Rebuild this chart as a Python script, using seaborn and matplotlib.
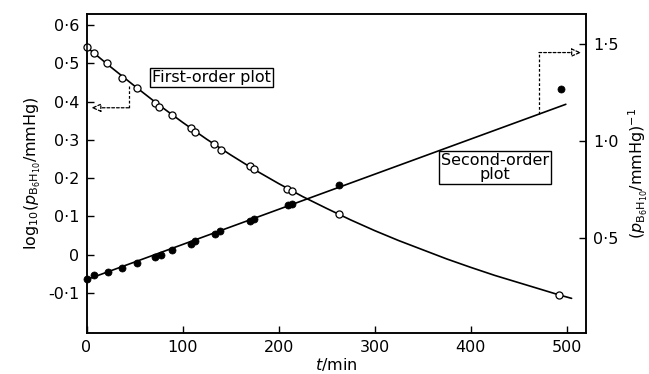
import matplotlib
matplotlib.use("Agg")
import matplotlib.pyplot as plt
import pandas as pd
import seaborn as sns
from matplotlib.ticker import FixedLocator, FuncFormatter

# ---- data ----
t_first = [0, 7.6, 21.6, 36.8, 52.4, 70.8, 75.3, 89.3, 109, 112.8, 132.6, 139.9,
           169.8, 174.3, 209, 214.3, 262.8, 492]
log_p = [0.543, 0.528, 0.500, 0.463, 0.435, 0.397, 0.387, 0.364, 0.332, 0.320,
         0.289, 0.274, 0.233, 0.223, 0.173, 0.167, 0.107, -0.105]

t_second = [0, 8.3, 22.2, 36.8, 52.4, 70.8, 77.1, 89.3, 109, 113.2, 133.3, 138.5,
            169.8, 174.3, 210, 213.9, 262.8, 494]
inv_p = [0.286, 0.307, 0.324, 0.346, 0.372, 0.403, 0.413, 0.438, 0.470, 0.483,
         0.522, 0.536, 0.588, 0.598, 0.669, 0.676, 0.771, 1.267]

# fitted curves as drawn
curve1_t = [0, 25, 50, 75, 100, 125, 150, 175, 200, 225, 250, 275, 300, 325,
            350, 375, 400, 425, 450, 475, 492, 505]
curve1_v = [0.543, 0.491, 0.441, 0.392, 0.346, 0.302, 0.261, 0.222, 0.186,
            0.152, 0.121, 0.091, 0.063, 0.037, 0.013, -0.011, -0.033, -0.054,
            -0.073, -0.092, -0.105, -0.114]
line2_t = [0, 499]
line2_v = [0.285, 1.19]

# annotation pointer paths
arrow1_t = [44, 44, 5]
arrow1_v = [0.441, 0.384, 0.384]
arrow2_t = [471, 471, 515]
arrow2_v = [1.142, 1.457, 1.457]

x_ticks = [0, 100, 200, 300, 400, 500]
left_ticks = [-0.1, 0, 0.1, 0.2, 0.3, 0.4, 0.5, 0.6]
right_ticks = [0.5, 1.0, 1.5]

sns.set_style("ticks")
plt.rcParams["font.family"] = ["DejaVu Sans"]
plt.rcParams["font.size"] = 11.5
plt.rcParams["axes.linewidth"] = 1.1
for k in ("text.color", "axes.labelcolor", "xtick.color", "ytick.color",
          "axes.edgecolor"):
    plt.rcParams[k] = "black"

fig = plt.figure(figsize=(6.49, 3.74), dpi=100)
ax = fig.add_axes([86.5 / 649, 1 - 333 / 374, (586 - 86.5) / 649, (333 - 14) / 374])
ax2 = ax.twinx()

df1 = pd.DataFrame({"t": t_first, "v": log_p})
df2 = pd.DataFrame({"t": t_second, "v": inv_p})
c1 = pd.DataFrame({"t": curve1_t, "v": curve1_v})
l2 = pd.DataFrame({"t": line2_t, "v": line2_v})

sns.lineplot(data=c1, x="t", y="v", ax=ax, color="black", lw=1.2,
             estimator=None, sort=False)
sns.scatterplot(data=df1, x="t", y="v", ax=ax, marker="o", s=26,
                facecolor="white", edgecolor="black", linewidth=0.9,
                zorder=5, clip_on=False)
sns.lineplot(data=l2, x="t", y="v", ax=ax2, color="black", lw=1.2,
             estimator=None, sort=False)
sns.scatterplot(data=df2, x="t", y="v", ax=ax2, marker="o", s=26,
                color="black", edgecolor="black", linewidth=0.5,
                zorder=5, clip_on=False)

dash = (0, (2.2, 1.6))
ax.plot(arrow1_t[:2], arrow1_v[:2], color="black", lw=0.9, ls=dash)
ax.annotate("", xy=(arrow1_t[2], arrow1_v[2]), xytext=(arrow1_t[1], arrow1_v[1]),
            arrowprops=dict(arrowstyle="-|>,head_length=0.5,head_width=0.22",
                            linestyle=dash, lw=0.9, fc="white", ec="black",
                            shrinkA=0, shrinkB=0))
ax2.plot(arrow2_t[:2], arrow2_v[:2], color="black", lw=0.9, ls=dash)
ax2.annotate("", xy=(arrow2_t[2], arrow2_v[2]), xytext=(arrow2_t[1], arrow2_v[1]),
             arrowprops=dict(arrowstyle="-|>,head_length=0.5,head_width=0.22",
                             linestyle=dash, lw=0.9, fc="white", ec="black",
                             shrinkA=0, shrinkB=0))

box = dict(boxstyle="square,pad=0.12", fc="white", ec="black", lw=1.0)
ax.text(130, 0.462, "First-order plot", ha="center", va="center", bbox=box,
        fontsize=11.5)
ax.text(425, 0.228, "Second-order\nplot", ha="center", va="center", bbox=box,
        fontsize=11.5, linespacing=0.95)

ax.set_xlim(0, 520)
ax.set_ylim(-0.2045, 0.629)
ax2.set_ylim(0.0096, 1.656)


def fmt(v, pos=None):
    if abs(v) < 1e-9:
        return "0"
    return f"{v:.1f}".replace(".", "\u00b7")


ax.xaxis.set_major_locator(FixedLocator(x_ticks))
ax.xaxis.set_major_formatter(FuncFormatter(lambda v, p: f"{v:.0f}"))
ax.yaxis.set_major_locator(FixedLocator(left_ticks))
ax.yaxis.set_major_formatter(FuncFormatter(fmt))
ax2.yaxis.set_major_locator(FixedLocator(right_ticks))
ax2.yaxis.set_major_formatter(FuncFormatter(fmt))

for a in (ax, ax2):
    a.tick_params(direction="in", length=5, width=1.0, labelsize=11.5, pad=5,
                  colors="black")
    for s in a.spines.values():
        s.set_visible(True)
        s.set_linewidth(1.1)
        s.set_color("black")

ax.set_xlabel("$t$/min", fontsize=11.5, labelpad=1)
ax.set_ylabel(r"log$_{10}$($p_{\rm B_6H_{10}}$/mmHg)", fontsize=11.5, labelpad=4)
ax2.set_ylabel(r"($p_{\rm B_6H_{10}}$/mmHg)$^{-1}$", fontsize=11.5,
               rotation=90, labelpad=6)

fig.savefig("out.png", dpi=100)
